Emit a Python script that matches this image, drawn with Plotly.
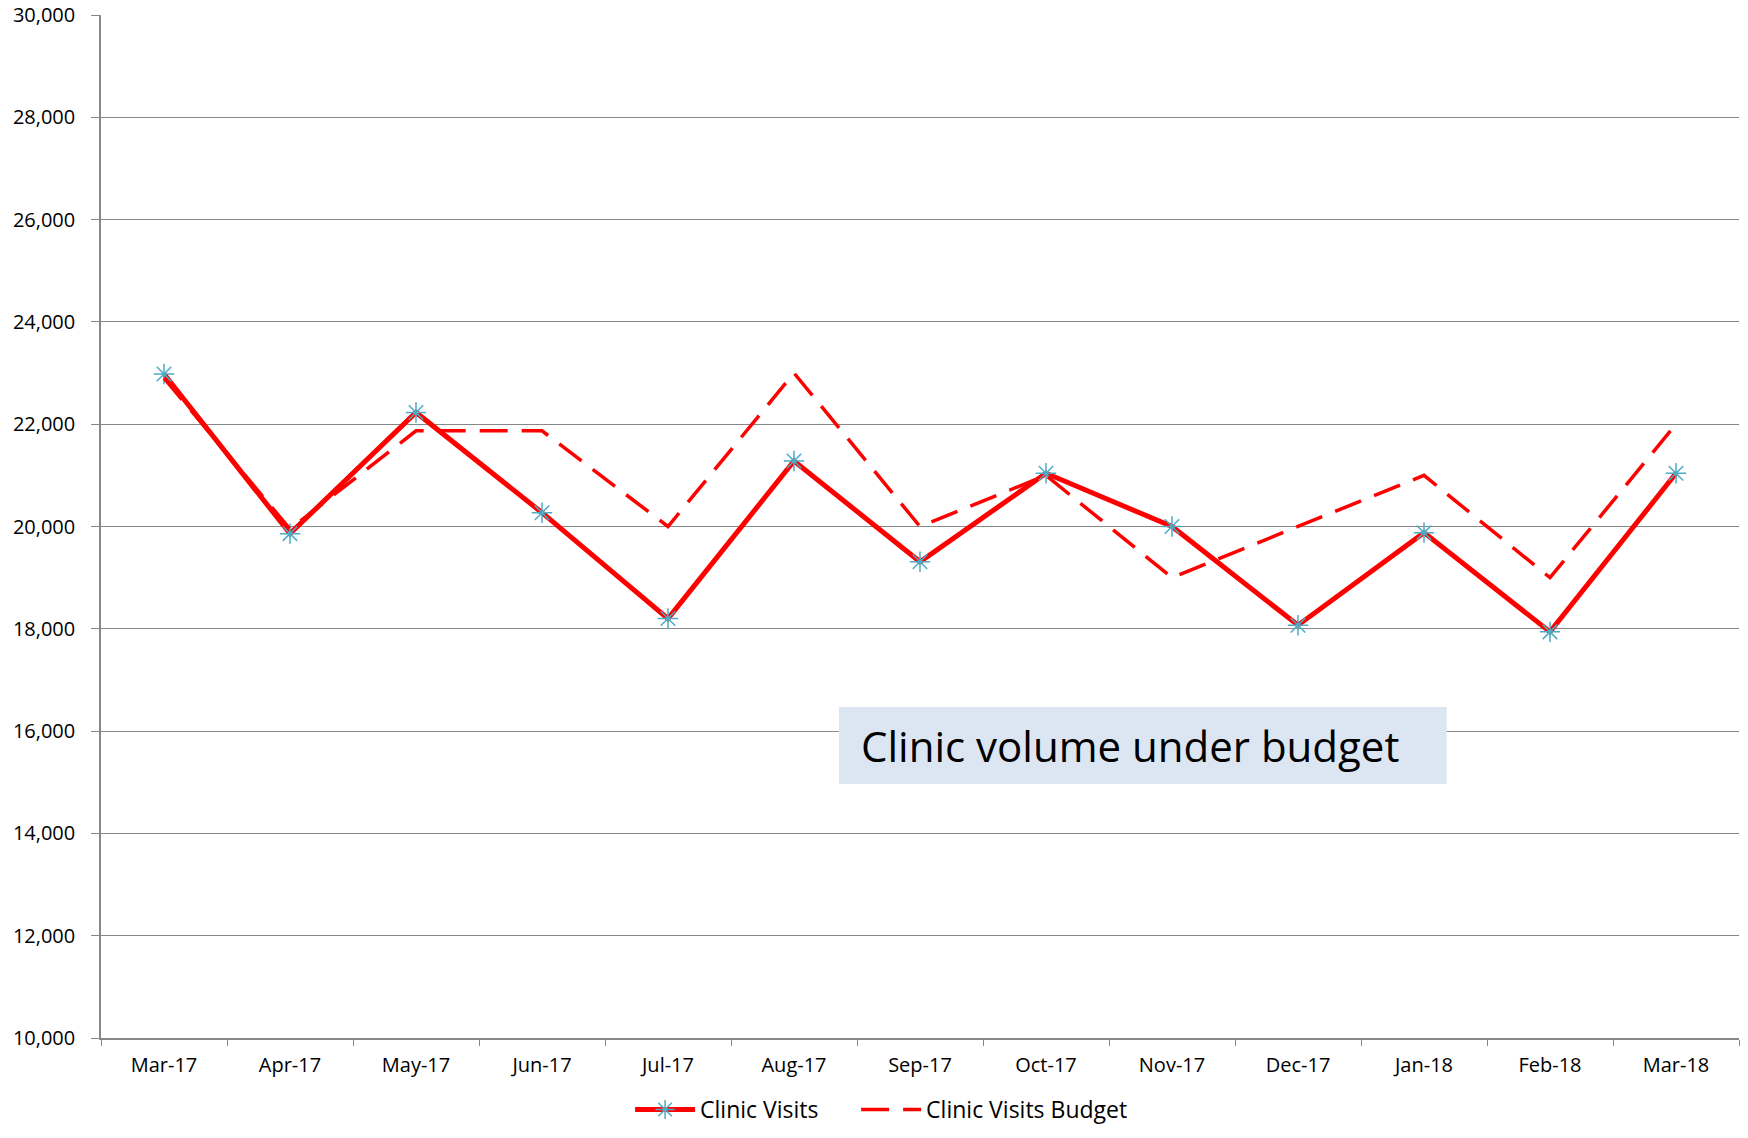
import plotly.graph_objects as go

months = ["Mar-17", "Apr-17", "May-17", "Jun-17", "Jul-17", "Aug-17", "Sep-17",
          "Oct-17", "Nov-17", "Dec-17", "Jan-18", "Feb-18", "Mar-18"]
clinic_visits = [22980, 19860, 22230, 20270, 18200, 21280, 19310,
                 21040, 20000, 18070, 19880, 17940, 21040]
clinic_budget = [22900, 19950, 21870, 21870, 20000, 23000, 20000,
                 21000, 19000, 20000, 21000, 19000, 22000]
y_ticks = list(range(10000, 30001, 2000))

FONT = "Open Sans, sans-serif"
GRID = "#888888"

fig = go.Figure()

fig.add_trace(
    go.Scatter(
        x=months,
        y=clinic_visits,
        name="Clinic Visits",
        mode="lines+markers",
        line=dict(color="#ff0000", width=5),
        marker=dict(symbol="asterisk-open", size=17, color="#4bacc6",
                    line=dict(color="#4bacc6", width=1.5)),
        legend="legend",
        showlegend=True,
    )
)

fig.add_trace(
    go.Scatter(
        x=months,
        y=clinic_budget,
        name="Clinic Visits Budget",
        mode="lines",
        line=dict(color="#ff0000", width=3.5, dash="28px,14px"),
        legend="legend2",
        showlegend=True,
    )
)

# Callout box
fig.add_shape(
    type="rect", xref="x", yref="y",
    x0=5.357, x1=10.18, y0=14966, y1=16471,
    fillcolor="#dce6f2", line=dict(width=0), layer="above",
)
fig.add_annotation(
    x=5.516, y=15720, xref="x", yref="y",
    text="Clinic volume under budget",
    showarrow=False, xanchor="left", yanchor="middle",
    font=dict(family=FONT, size=42, color="black"),
)

legend_style = dict(
    orientation="h",
    xanchor="left",
    yref="container",
    y=0.025, yanchor="middle",
    font=dict(size=23),
    itemwidth=60,
    bgcolor="rgba(0,0,0,0)",
)

fig.update_layout(
    width=1748,
    height=1138,
    margin=dict(l=101, r=9, t=15, b=100),
    plot_bgcolor="white",
    paper_bgcolor="white",
    showlegend=True,
    font=dict(family=FONT, size=20, color="black"),
    xaxis=dict(
        type="category",
        range=[-0.5, 12.5],
        tickson="boundaries",
        ticks="outside",
        ticklen=6,
        tickcolor=GRID,
        showline=True,
        linecolor=GRID,
        linewidth=1.5,
        showgrid=False,
        tickfont=dict(size=20),
        ticklabelstandoff=8,
        automargin=False,
    ),
    yaxis=dict(
        range=[10000, 30000],
        tickvals=y_ticks,
        tickformat=",",
        ticks="outside",
        ticklen=8,
        tickcolor=GRID,
        showline=True,
        linecolor=GRID,
        linewidth=1.5,
        gridcolor=GRID,
        gridwidth=1,
        zeroline=False,
        tickfont=dict(size=20),
        ticklabelstandoff=12,
        automargin=False,
    ),
    legend=dict(legend_style, x=0.323),
    legend2=dict(legend_style, x=0.461),
)

# drop the default body margin so the figure sits at the page corner
fig.write_html(
    "out.html",
    config={"displayModeBar": False},
    post_script="document.body.style.margin='0';",
)
